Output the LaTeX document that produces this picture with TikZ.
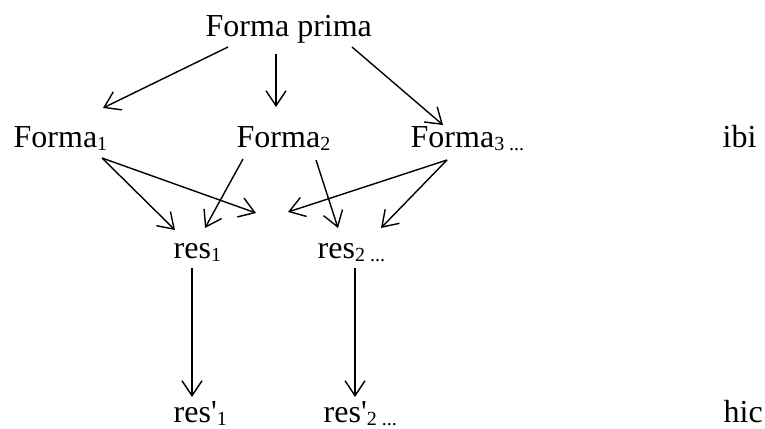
\documentclass[tikz,border=0pt]{standalone}
\usepackage{fontspec}
\newfontfamily\timesfont{Liberation Serif}
\usetikzlibrary{arrows.meta}
\newcommand\lowidx[1]{\raisebox{-3pt}{\fontsize{20}{24}\selectfont #1}}

\begin{document}
\begin{tikzpicture}[x=1pt, y=-1pt, >={Straight Barb[length=15pt,width=20pt]}, line width=1.4pt,
    lbl/.style={anchor=base west, inner sep=0pt, font=\timesfont\fontsize{32}{38}\selectfont}]

    % Rahmen wie im Original
    \useasboundingbox (0,0) rectangle (765,428);

    % Ebene 0: die erste Form
    \node[lbl] (fp) at (205,37) {Forma prima};

    % Ebene 1: die Formen und "ibi"
    \node[lbl] (f1) at (13,147) {Forma\lowidx{1}};
    \node[lbl] (f2) at (236,147) {Forma\lowidx{2}};
    \node[lbl] (f3) at (410,147) {Forma\lowidx{3 ...}};
    \node[lbl] (ibi) at (722,147) {ibi};

    % Ebene 2: res
    \node[lbl] (r1) at (173,258) {res\lowidx{1}};
    \node[lbl] (r2) at (317,258) {res\lowidx{2 ...}};

    % Ebene 3: res' und "hic"
    \node[lbl] (rp1) at (173,422) {res'\lowidx{1}};
    \node[lbl] (rp2) at (323,422) {res'\lowidx{2 ...}};
    \node[lbl] (hic) at (723,422) {hic};

    % freie Pfeilenden zwischen res1 und res2
    \coordinate (m1) at (256,213);
    \coordinate (m2) at (288,212);

    % 1. Forma prima -> Formen
    \draw[->] ([shift={(23,10)}]fp.base west) -- ([shift={(90,-39)}]f1.base west);
    \draw[->] ([shift={(71,17)}]fp.base west) -- ([shift={(40,-40)}]f2.base west);
    \draw[->] ([shift={(147,10)}]fp.base west) -- ([shift={(33,-22)}]f3.base west);

    % 2. Formen -> res
    \draw[->] ([shift={(89,11)}]f1.base west) -- ([shift={(2,-28)}]r1.base west);
    \draw[->] ([shift={(89,11)}]f1.base west) -- (m1);
    \draw[->] ([shift={(7,12)}]f2.base west) -- ([shift={(32,-30)}]r1.base west);
    \draw[->] ([shift={(80,13)}]f2.base west) -- ([shift={(21,-30)}]r2.base west);
    \draw[->] ([shift={(37,13)}]f3.base west) -- (m2);
    \draw[->] ([shift={(37,13)}]f3.base west) -- ([shift={(64,-30)}]r2.base west);

    % 3. res -> res'
    \draw[->] ([shift={(19,10)}]r1.base west) -- ([shift={(19,-25)}]rp1.base west);
    \draw[->] ([shift={(38,10)}]r2.base west) -- ([shift={(32,-25)}]rp2.base west);

\end{tikzpicture}
\end{document}
